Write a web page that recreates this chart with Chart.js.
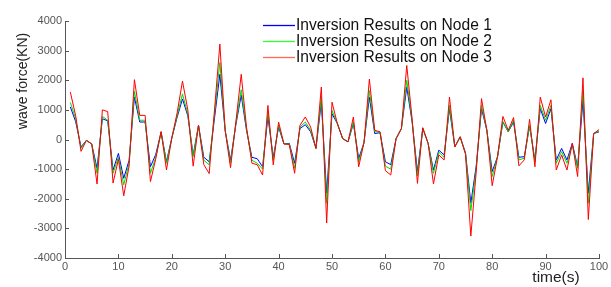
<!DOCTYPE html>
<html>
<head>
<meta charset="utf-8">
<script src="https://cdn.jsdelivr.net/npm/chart.js@4.4.0/dist/chart.umd.min.js"></script>
<style>
html,body{margin:0;padding:0;background:#fff;}
canvas{display:block;}
</style>
</head>
<body>
<canvas id="c" width="611" height="287"></canvas>
<script>
const times = [1,2,3,4,5,6,7,8,9,10,11,12,13,14,15,16,17,18,19,20,
21,22,23,24,25,26,27,28,29,30,31,32,33,34,35,36,37,38,39,40,
41,42,43,44,45,46,47,48,49,50,51,52,53,54,55,56,57,58,59,60,
61,62,63,64,65,66,67,68,69,70,71,72,73,74,75,76,77,78,79,80,
81,82,83,84,85,86,87,88,89,90,91,92,93,94,95,96,97,98,99,100];

const node1 = [1100,600,-250,-30,-150,-970,700,630,-1030,-470,
-1310,-700,1430,590,590,-920,-500,250,-750,50,
750,1370,800,-530,480,-600,-750,725,2200,300,
-700,500,1500,300,-600,-650,-920,760,-600,420,
-150,-130,-800,370,500,260,-300,1260,-1810,870,
540,30,-80,540,-640,-100,1430,200,230,-750,
-850,30,370,1770,600,-1080,370,-130,-1030,-360,
-520,1040,-250,90,-450,-2150,-900,1040,310,-1080,
-580,590,260,590,-600,-580,450,-690,1040,540,
1040,-690,-300,-690,-130,-920,1320,-1810,200,260];

const node2 = [1250,700,-300,-30,-150,-1140,780,650,-1140,-600,
-1530,-800,1630,650,650,-1140,-600,250,-800,50,
800,1540,850,-580,480,-700,-850,875,2600,300,
-800,550,1680,350,-700,-800,-1000,930,-700,480,
-150,-150,-970,420,590,310,-300,1430,-2150,980,
540,30,-80,590,-750,-100,1650,260,250,-900,
-1000,30,370,2000,650,-1230,380,-130,-1140,-430,
-600,1150,-250,90,-470,-2400,-1000,1150,310,-1250,
-580,610,260,650,-690,-630,480,-750,1150,650,
1150,-800,-410,-800,-190,-970,1650,-2150,200,290];

const node3 = [1600,800,-400,-30,-150,-1500,1000,940,-1470,-670,
-1900,-900,2020,815,815,-1420,-650,270,-1030,50,
900,1970,1000,-900,480,-850,-1150,1000,3220,300,
-950,600,2200,400,-800,-850,-1200,1150,-860,590,
-150,-170,-1140,480,760,420,-300,1770,-2820,1260,
540,30,-80,760,-920,-100,2040,310,260,-1050,
-1200,30,370,2500,700,-1480,400,-130,-1500,-520,
-690,1430,-250,90,-500,-3260,-1100,1380,310,-1560,
-580,780,310,740,-890,-690,680,-920,1430,760,
1340,-1030,-520,-1030,-130,-1250,2080,-2700,200,335];

const seriesNames = ['Inversion Results on Node 1','Inversion Results on Node 2','Inversion Results on Node 3'];
const seriesColors = ['#0000ff','#00dd00','#ff0000'];
const legendColors = ['#0000ff','#33ff33','#ff6a50'];
const xTickValues = [0,10,20,30,40,50,60,70,80,90,100];
const yTickValues = [-4000,-3000,-2000,-1000,0,1000,2000,3000,4000];
const xTitle = 'time(s)';
const yTitle = 'wave force(KN)';

const FONT = '"Liberation Sans", Arial, sans-serif';

function pts(arr){ return arr.map((v,i)=>({x:times[i], y:v})); }

const inwardTicks = {
  id:'inwardTicks',
  afterDraw(chart){
    const ctx = chart.ctx, ca = chart.chartArea;
    const xs = chart.scales.x, ys = chart.scales.y;
    ctx.save();
    ctx.strokeStyle = '#555';
    ctx.lineWidth = 1;
    ctx.beginPath();
    xTickValues.forEach(v=>{
      const px = Math.round(xs.getPixelForValue(v))+0.5;
      ctx.moveTo(px, Math.round(ca.bottom)); ctx.lineTo(px, Math.round(ca.bottom)-4);
    });
    yTickValues.forEach(v=>{
      const py = Math.round(ys.getPixelForValue(v))+0.5;
      ctx.moveTo(Math.round(ca.left), py); ctx.lineTo(Math.round(ca.left)+4, py);
    });
    ctx.stroke();
    // axis titles
    ctx.fillStyle = '#222';
    ctx.font = '14px ' + FONT;
    ctx.textAlign = 'center';
    ctx.textBaseline = 'middle';
    ctx.save();
    ctx.translate(23, 81);
    ctx.rotate(-Math.PI/2);
    ctx.fillText(yTitle, 0, 0);
    ctx.restore();
    ctx.font = '15.5px ' + FONT;
    ctx.fillText(xTitle, 556, 278);
    // legend
    ctx.font = '15.6px ' + FONT;
    ctx.textAlign = 'left';
    seriesNames.forEach((name,i)=>{
      const y = 25.5 + i*16;
      ctx.strokeStyle = legendColors[i];
      ctx.lineWidth = 1.3;
      ctx.beginPath();
      ctx.moveTo(263, y); ctx.lineTo(295, y);
      ctx.stroke();
      ctx.fillStyle = '#111';
      ctx.fillText(name, 296, y+0.5);
    });
    ctx.restore();
  }
};

const bg = {
  id:'bg',
  beforeDraw(chart){
    const ctx = chart.ctx;
    ctx.save(); ctx.fillStyle='#fff'; ctx.fillRect(0,0,chart.width,chart.height); ctx.restore();
  }
};

const datasets = [node3, node2, node1].map((arr, k)=>{
  const i = 2-k;
  return {
    label: seriesNames[i],
    data: pts(arr),
    borderColor: seriesColors[i],
    backgroundColor: seriesColors[i],
    borderWidth: 1,
    pointRadius: 0,
    tension: 0,
    fill: false
  };
});

new Chart(document.getElementById('c'), {
  type:'line',
  data:{ datasets },
  options:{
    responsive:false,
    animation:false,
    devicePixelRatio:1,
    layout:{ padding:{ left:0, right:12, top:21, bottom:0 } },
    plugins:{ legend:{display:false}, tooltip:{enabled:false}, title:{display:false} },
    scales:{
      x:{
        type:'linear', min:0, max:100,
        afterBuildTicks(scale){ scale.ticks = xTickValues.map(v=>({value:v})); },
        afterFit(scale){ scale.height = 29; },
        grid:{ display:false, drawTicks:false },
        border:{ display:true, color:'#555', width:1 },
        ticks:{ color:'#555', font:{ family:FONT, size:11 }, padding:2, maxRotation:0, autoSkip:false,
                callback:(v)=>String(v) }
      },
      y:{
        type:'linear', min:-4000, max:4000,
        afterBuildTicks(scale){ scale.ticks = yTickValues.map(v=>({value:v})); },
        afterFit(scale){ scale.width = 65; },
        grid:{ display:false, drawTicks:false },
        border:{ display:true, color:'#555', width:1 },
        ticks:{ color:'#555', font:{ family:FONT, size:11 }, padding:3, autoSkip:false,
                callback:(v)=>String(v) }
      }
    }
  },
  plugins:[bg, inwardTicks]
});
</script>
</body>
</html>
